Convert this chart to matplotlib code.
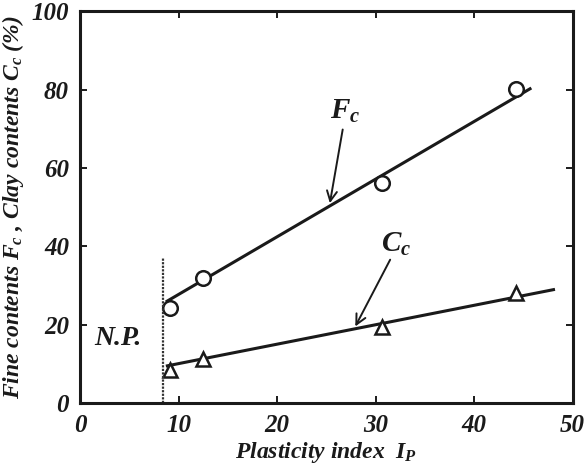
import matplotlib
matplotlib.use("Agg")
import matplotlib.pyplot as plt

# data
ip_points = [9.1, 12.5, 30.6, 44.2]
fc_points = [24.2, 32.0, 56.2, 80.2]
cc_points = [8.4, 11.2, 19.4, 28.0]

fc_line_x = [8.7, 45.8]
fc_line_y = [25.8, 80.4]
cc_line_x = [8.7, 48.2]
cc_line_y = [9.4, 29.0]

np_limit = 8.4
np_top = 37

x_ticks = [0, 10, 20, 30, 40, 50]
y_ticks = [0, 20, 40, 60, 80, 100]

plt.rcParams["font.family"] = "Liberation Serif"
plt.rcParams["font.weight"] = "bold"
plt.rcParams["font.style"] = "italic"
plt.rcParams["axes.labelweight"] = "bold"
plt.rcParams["mathtext.fontset"] = "custom"
plt.rcParams["mathtext.rm"] = "Liberation Serif:italic:bold"
plt.rcParams["mathtext.it"] = "Liberation Serif:italic:bold"
plt.rcParams["mathtext.bf"] = "Liberation Serif:italic:bold"

fnt = dict(family="Liberation Serif", weight="bold", style="italic")
ink = "#1a1a1a"

fig = plt.figure(figsize=(5.85, 4.68), dpi=100)
ax = fig.add_axes([0.137, 0.139, 0.842, 0.837])

ax.plot(fc_line_x, fc_line_y, color=ink, lw=2.2, solid_capstyle="butt")
ax.plot(cc_line_x, cc_line_y, color=ink, lw=2.2, solid_capstyle="butt")
ax.plot(ip_points, fc_points, "o", ms=10.5, mfc="white", mec=ink, mew=1.8)
ax.plot(ip_points, cc_points, "^", ms=10.5, mfc="white", mec=ink, mew=1.8)

# N.P. boundary
ax.plot([np_limit, np_limit], [0, np_top], color="#333333", lw=1.6, ls=(0, (1, 0.6)))
ax.text(3.8, 16.5, "N.P.", fontsize=20, ha="center", va="center", color=ink, **fnt)

# labels with arrows
ax.annotate("", xy=(25.3, 50.3), xytext=(26.7, 70.5),
            arrowprops=dict(arrowstyle="->", color=ink, lw=1.4, mutation_scale=18))
ax.text(26.9, 74.5, "$F_c$", fontsize=21, ha="center", va="center", color=ink)
ax.annotate("", xy=(27.8, 18.9), xytext=(31.6, 37.2),
            arrowprops=dict(arrowstyle="->", color=ink, lw=1.4, mutation_scale=18))
ax.text(32.1, 40.5, "$C_c$", fontsize=21, ha="center", va="center", color=ink)

ax.set_xlim(0, 50)
ax.set_ylim(0, 100)
ax.set_xticks(x_ticks, [str(t) for t in x_ticks], fontsize=18, color=ink, **fnt)
ax.set_yticks(y_ticks, [str(t) for t in y_ticks], fontsize=18, color=ink, **fnt)
ax.tick_params(direction="in", length=5, width=1.4, top=True, right=True,
               pad=8, colors=ink)
for s in ax.spines.values():
    s.set_linewidth(2.2)
    s.set_color(ink)

ax.set_xlabel("Plasticity index  $I_P$", fontsize=17, labelpad=2, color=ink, **fnt)
ax.set_ylabel("Fine contents $F_c$ , Clay contents $C_c$ (%)", fontsize=17,
              labelpad=4, color=ink, **fnt)

fig.savefig("out.png", dpi=100)
